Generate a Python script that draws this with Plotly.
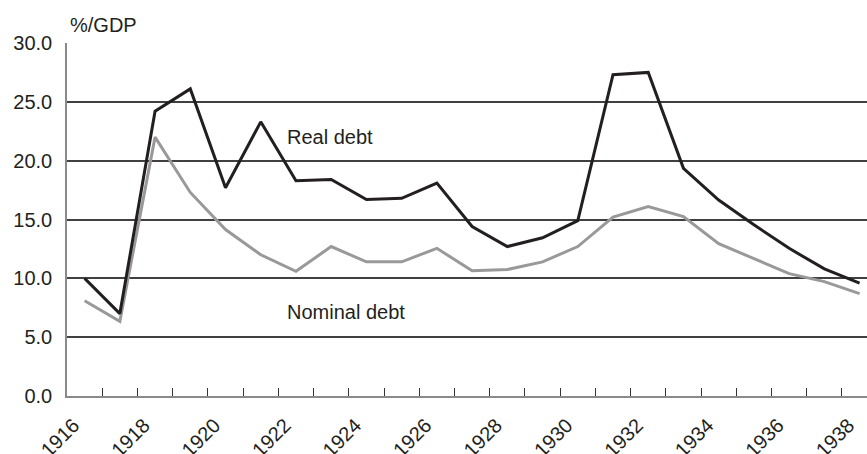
import plotly.graph_objects as go

years = list(range(1916, 1939))
real_debt = [10.0, 7.0, 24.2, 26.1, 17.7, 23.3, 18.3, 18.4, 16.7, 16.8, 18.1, 14.4,
             12.7, 13.45, 14.9, 27.3, 27.5, 19.35, 16.65, 14.55, 12.55, 10.8, 9.6]
nominal_debt = [8.1, 6.35, 22.0, 17.3, 14.15, 12.0, 10.6, 12.7, 11.4, 11.4, 12.55, 10.65,
                10.75, 11.4, 12.7, 15.2, 16.1, 15.25, 12.95, 11.65, 10.4, 9.72, 8.7]
y_ticks = [0, 5, 10, 15, 20, 25, 30]
x_label_years = list(range(1916, 1939, 2))

TEXT = "#231f20"
FONT = "Arial, Liberation Sans, sans-serif"
FS = 20

fig = go.Figure()
fig.add_trace(go.Scatter(x=years, y=nominal_debt, mode="lines", name="Nominal debt",
                         line=dict(color="#999999", width=3), showlegend=False))
fig.add_trace(go.Scatter(x=years, y=real_debt, mode="lines", name="Real debt",
                         line=dict(color="#231f20", width=3), showlegend=False))

fig.add_annotation(xref="paper", yref="paper", x=0.001, y=1.051, text="%/GDP",
                   showarrow=False, xanchor="left", yanchor="middle",
                   font=dict(size=FS, color=TEXT, family=FONT))
fig.add_annotation(xref="paper", yref="paper", x=0.272, y=0.7346, text="Real debt",
                   showarrow=False, xanchor="left", yanchor="middle",
                   font=dict(size=FS, color=TEXT, family=FONT))
fig.add_annotation(xref="paper", yref="paper", x=0.273, y=0.2388, text="Nominal debt",
                   showarrow=False, xanchor="left", yanchor="middle",
                   font=dict(size=FS, color=TEXT, family=FONT))

fig.update_layout(
    width=867, height=454,
    margin=dict(l=67, r=0, t=43, b=58),
    paper_bgcolor="white", plot_bgcolor="white",
    font=dict(family=FONT, size=FS, color=TEXT),
    xaxis=dict(
        range=[1915.5, 1938.21], automargin=False,
        tickmode="array", tickvals=x_label_years, ticktext=[str(y) for y in x_label_years],
        ticks="", tickangle=-45, showgrid=False, zeroline=False,
        showline=True, linecolor="#8a8a8a", linewidth=1.5,
        ticklabeloverflow="allow", ticklabelstandoff=8, ticklabelshift=-11,
        tickfont=dict(size=FS, color=TEXT, family=FONT),
        minor=dict(tickmode="array", tickvals=[y + 0.5 for y in years],
                   ticks="inside", ticklen=8, tickwidth=1.2, tickcolor="#333333",
                   showgrid=False),
    ),
    yaxis=dict(
        range=[0, 30], automargin=False,
        tickmode="array", tickvals=y_ticks, ticktext=[f"{v:.1f}" for v in y_ticks],
        ticks="", showgrid=True, gridcolor="#404040", gridwidth=1.5, zeroline=False,
        showline=True, linecolor="#8a8a8a", linewidth=1.5,
        ticklabelstandoff=9,
        tickfont=dict(size=FS, color=TEXT, family=FONT),
    ),
)

fig.write_html("out.html", config={"displayModeBar": False},
               post_script="document.body.style.margin='0';document.body.style.overflow='hidden';")
